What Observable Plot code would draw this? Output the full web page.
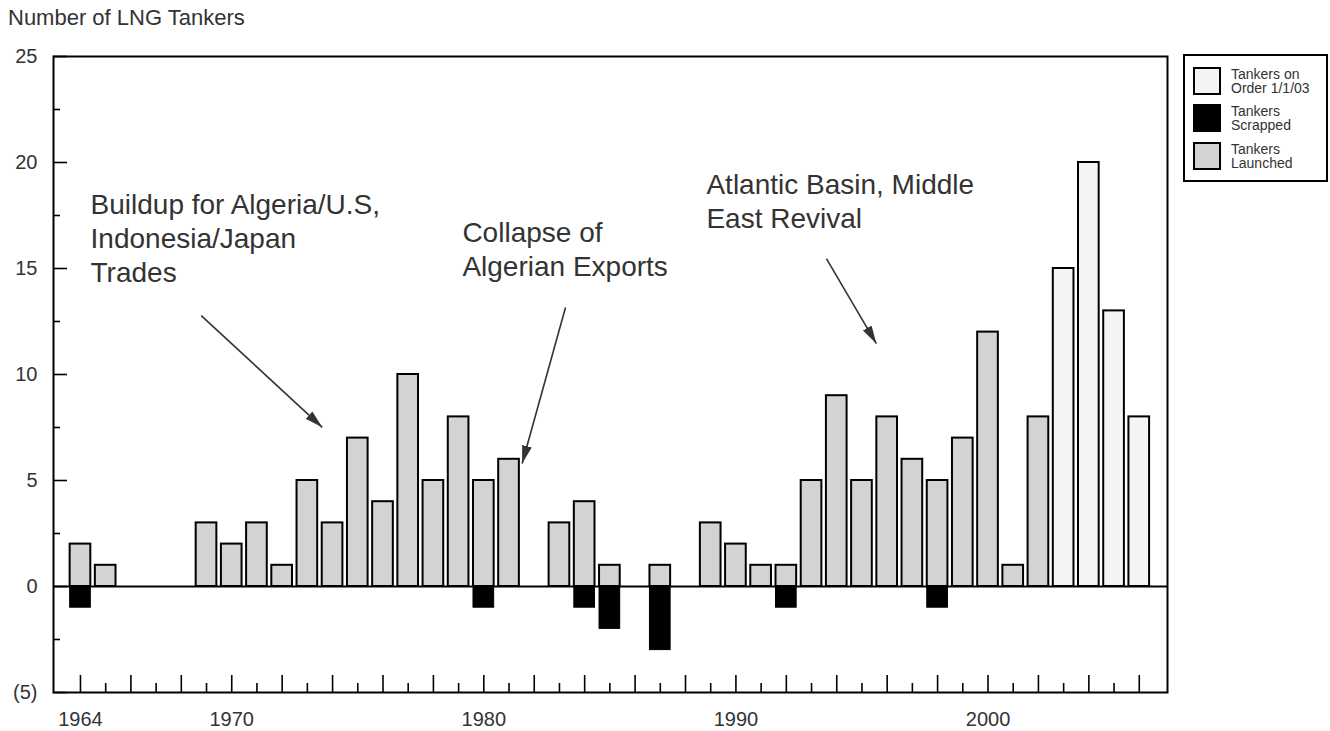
<!DOCTYPE html>
<html>
<head>
<meta charset="utf-8">
<script src="https://cdn.jsdelivr.net/npm/d3@7"></script>
<script src="https://cdn.jsdelivr.net/npm/@observablehq/plot@0.6"></script>
<style>
  html, body { margin: 0; padding: 0; background: #fff; }
  #wrap { position: relative; width: 1330px; height: 731px; font-family: "Liberation Sans", Arial, sans-serif; overflow: hidden; }
  #title { height: 30px; padding-left: 8px; font-size: 22px; line-height: 30px; color: #333; box-sizing: border-box; padding-top: 3px; }
  #legend { position: absolute; left: 1183px; top: 54px; width: 145px; height: 128px; border: 2px solid #000; box-sizing: border-box; background: #fff; }
  .lg-item { position: absolute; left: 8px; height: 28px; }
  .lg-sw { position: absolute; left: 0; top: 0; width: 28px; height: 28px; border: 2px solid #000; box-sizing: border-box; }
  .lg-tx { position: absolute; left: 38px; top: 0; font-size: 14px; line-height: 14px; color: #333; white-space: nowrap; }
</style>
</head>
<body>
<div id="wrap">
  <div id="title">Number of LNG Tankers</div>
  <div id="chart"></div>
  <div id="legend"></div>
</div>
<script>
// ---- data ----
const launchedYears  = [1964,1965,1969,1970,1971,1972,1973,1974,1975,1976,1977,1978,1979,1980,1981,1983,1984,1985,1987,1989,1990,1991,1992,1993,1994,1995,1996,1997,1998,1999,2000,2001,2002];
const launchedCounts = [2,1,3,2,3,1,5,3,7,4,10,5,8,5,6,3,4,1,1,3,2,1,1,5,9,5,8,6,5,7,12,1,8];
const scrappedYears  = [1964,1980,1984,1985,1987,1992,1998];
const scrappedCounts = [-1,-1,-1,-2,-3,-1,-1];
const orderYears     = [2003,2004,2005,2006];
const orderCounts    = [15,20,13,8];

const yMajorTicks = [-5,0,5,10,15,20,25];
const yMinorTicks = [-2.5,2.5,7.5,12.5,17.5,22.5];
const xLabelYears = [1964,1970,1980,1990,2000];

const legendLabels = ["Tankers on\nOrder 1/1/03", "Tankers\nScrapped", "Tankers\nLaunched"];
const legendColors = ["#f4f4f4", "#000000", "#d3d3d3"];

const noteTexts = ["Buildup for Algeria/U.S,\nIndonesia/Japan\nTrades", "Collapse of\nAlgerian Exports", "Atlantic Basin, Middle\nEast Revival"];
const noteX = [1964.4, 1979.15, 1988.83];
const noteY = [18.68, 17.36, 19.62];

const arrowX1 = [1968.79, 1983.24, 1993.59];
const arrowY1 = [12.78, 13.16, 15.47];
const arrowX2 = [1973.59, 1981.52, 1995.57];
const arrowY2 = [7.51, 5.80, 11.46];

// ---- tables built from arrays ----
const launched = launchedYears.map((y, i) => ({year: y, value: launchedCounts[i]}));
const scrapped = scrappedYears.map((y, i) => ({year: y, value: scrappedCounts[i]}));
const onOrder = orderYears.map((y, i) => ({year: y, value: orderCounts[i]}));
const notes = noteTexts.map((t, i) => ({text: t, x: noteX[i], y: noteY[i]}));
const arrows = arrowX1.map((x, i) => ({x1: x, y1: arrowY1[i], x2: arrowX2[i], y2: arrowY2[i]}));

const allYears = d3.range(1964, 2007);
const evenYears = allYears.filter(y => y % 2 === 0);
const oddYears = allYears.filter(y => y % 2 === 1);

const half = 0.41;
const fmtY = d => d < 0 ? `(${-d})` : `${d}`;

function filledHead(color) {
  const ns = "http://www.w3.org/2000/svg";
  const m = document.createElementNS(ns, "marker");
  m.setAttribute("viewBox", "-18 -6 18 12");
  m.setAttribute("markerWidth", "18");
  m.setAttribute("markerHeight", "12");
  m.setAttribute("markerUnits", "userSpaceOnUse");
  m.setAttribute("orient", "auto");
  m.setAttribute("refX", "0");
  m.setAttribute("refY", "0");
  m.setAttribute("fill", "#333");
  m.setAttribute("stroke", "none");
  const p = document.createElementNS(ns, "path");
  p.setAttribute("d", "M0,0L-18,-5L-18,5Z");
  m.appendChild(p);
  return m;
}

function build(useCustom) {
  const arrowMark = useCustom
    ? Plot.link(arrows, {x1: "x1", y1: "y1", x2: "x2", y2: "y2", stroke: "#333", strokeWidth: 1.6, markerEnd: filledHead})
    : Plot.arrow(arrows, {x1: "x1", y1: "y1", x2: "x2", y2: "y2", stroke: "#333", strokeWidth: 1.6, headLength: 16, headAngle: 35});
  return Plot.plot({
    width: 1330,
    height: 701,
    marginTop: 26,
    marginBottom: 39,
    marginLeft: 53,
    marginRight: 163,
    style: {fontFamily: "'Liberation Sans', Arial, sans-serif", color: "#000", background: "#fff"},
    x: {type: "linear", domain: [1962.93, 2007.12], axis: null},
    y: {domain: [-5, 25], axis: null},
    marks: [
      Plot.rectY(launched, {x1: d => d.year - half, x2: d => d.year + half, y1: 0, y2: "value", fill: "#d3d3d3", stroke: "#000", strokeWidth: 2}),
      Plot.rectY(onOrder, {x1: d => d.year - half, x2: d => d.year + half, y1: 0, y2: "value", fill: "#f4f4f4", stroke: "#000", strokeWidth: 2}),
      Plot.rectY(scrapped, {x1: d => d.year - half, x2: d => d.year + half, y1: 0, y2: "value", fill: "#000", stroke: "#000", strokeWidth: 1}),
      Plot.ruleY([0], {stroke: "#000", strokeWidth: 2}),
      Plot.axisY({ticks: yMajorTicks, tickSize: -14, tickPadding: 30, tickFormat: fmtY, fontSize: 20, stroke: "#000", fill: "#333", strokeWidth: 1.6, label: null}),
      Plot.axisY({ticks: yMinorTicks, tickSize: -7, tickFormat: () => "", stroke: "#000", strokeWidth: 1.6, label: null}),
      Plot.axisX({ticks: evenYears, tickSize: -17, tickPadding: 36, tickFormat: d => xLabelYears.includes(d) ? String(d) : "", fontSize: 20, stroke: "#000", fill: "#333", strokeWidth: 1.6, label: null}),
      Plot.axisX({ticks: oddYears, tickSize: -9, tickFormat: () => "", stroke: "#000", strokeWidth: 1.6, label: null}),
      Plot.frame({stroke: "#000", strokeWidth: 2}),
      Plot.text(notes, {x: "x", y: "y", text: "text", textAnchor: "start", lineAnchor: "top", fontSize: 28, lineHeight: 1.2, fill: "#333"}),
      arrowMark
    ]
  });
}

let chart;
try { chart = build(true); } catch (e) { chart = build(false); }
document.getElementById("chart").appendChild(chart);

// ---- legend ----
const legend = document.getElementById("legend");
const tops = [11, 48, 86];
legendLabels.forEach((lab, i) => {
  const item = document.createElement("div");
  item.className = "lg-item";
  item.style.top = tops[i] + "px";
  const sw = document.createElement("div");
  sw.className = "lg-sw";
  sw.style.background = legendColors[i];
  const tx = document.createElement("div");
  tx.className = "lg-tx";
  tx.innerHTML = lab.split("\n").join("<br>");
  item.appendChild(sw); item.appendChild(tx);
  legend.appendChild(item);
});
</script>
</body>
</html>
